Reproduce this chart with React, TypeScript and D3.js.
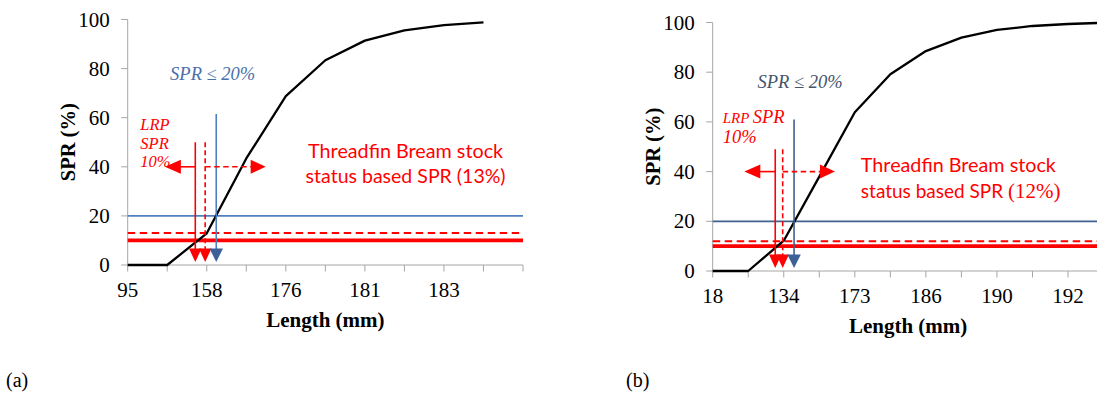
import React from "react";
import * as d3 from "d3";

// ---------- data ----------
const yTicks = [0, 20, 40, 60, 80, 100];

// Panel (a)
const aTickLabels = ["95", "158", "176", "181", "183"]; // shown on every 2nd category tick
const aSPR = [0, 0, 12.9, 43.4, 68.8, 83.4, 91.4, 95.6, 97.7, 98.8];
const aRefLevels = [20, 13, 10]; // target (blue), stock status (dashed red), LRP (solid red)
const aMarkerPos = [2.24, 1.96, 1.71]; // category positions of the vertical markers
const aMarkerTops = [61.5, 50, 50];
const aArrowTips = [0.94, 3.49];
const aStatusText = ["Threadfin Bream stock", "status based SPR (13%)"];

// Panel (b)
const bTickLabels = ["18", "134", "173", "186", "190", "192"];
const bSPR = [0, 0, 12.2, 38, 63.9, 79.2, 88.5, 93.9, 97.0, 98.6, 99.4, 99.9];
const bRefLevels = [20, 12, 10];
const bMarkerPos = [2.29, 1.97, 1.76];
const bMarkerTops = [61, 49, 49];
const bArrowTips = [0.89, 3.44];
const bStatusText = ["Threadfin Bream stock", "status based SPR ", "(12%)"];

const RED = "#ff0000";
const SERIF = "Liberation Serif, serif";
const SANS = "Lato, sans-serif";

type PanelProps = {
  x0: number; step: number; nInt: number; yBottom: number; yTop: number;
  labels: string[]; spr: number[]; levels: number[]; markers: number[]; tops: number[];
  tips: number[]; blueLine: string; blueText: string; variant: "a" | "b";
};

function Panel(p: PanelProps) {
  const x = d3.scaleLinear().domain([0, p.nInt]).range([p.x0, p.x0 + p.step * p.nInt]);
  const y = d3.scaleLinear().domain([0, 100]).range([p.yBottom, p.yTop]);
  const line = d3.line<number>().x((_, i) => x(i)).y((d) => y(d));
  const cats = d3.range(p.nInt + 1);
  const [target, status, lrp] = p.levels;
  const [mT, mS, mL] = p.markers;
  const [topT, topS, topL] = p.tops;
  const arrowY = y(40);
  const headTip = y(1.2);
  const headH = 13.5;
  const headW = 12.5;
  const downHead = (cx: number, color: string, w = headW) => (
    <path d={`M${cx - w / 2},${headTip - headH} L${cx + w / 2},${headTip - headH} L${cx},${headTip} Z`} fill={color} />
  );
  const xEnd = x(p.nInt);
  const midX = (x(0) + xEnd) / 2;
  const midY = (y(0) + y(100)) / 2;
  const axisColor = "#a6a6a6";
  const blueHead = "#3c6196";
  return (
    <g>
      {/* axes */}
      <line x1={x(0)} x2={x(0)} y1={y(0)} y2={y(100)} stroke={axisColor} strokeWidth={1} />
      <line x1={x(0)} x2={xEnd} y1={y(0)} y2={y(0)} stroke={axisColor} strokeWidth={1} />
      {yTicks.map((t) => (
        <g key={"yt" + t}>
          <line x1={x(0) - 6.5} x2={x(0)} y1={y(t)} y2={y(t)} stroke={axisColor} strokeWidth={1} />
          <text x={x(0) - 18} y={y(t)} dy="0.34em" textAnchor="end" fontFamily={SERIF} fontSize={21} fill="#000">{t}</text>
        </g>
      ))}
      {cats.map((c) => (
        <line key={"xt" + c} x1={x(c)} x2={x(c)} y1={y(0)} y2={y(0) + 6.5} stroke={axisColor} strokeWidth={1} />
      ))}
      {p.labels.map((l, i) => (
        <text key={"xl" + i} x={x(i * 2)} y={y(0) + 32} textAnchor="middle" fontFamily={SERIF} fontSize={21} fill="#000">{l}</text>
      ))}
      <text x={midX} y={y(0) + 62} textAnchor="middle" fontFamily={SERIF} fontWeight="bold" fontSize={21} fill="#000">Length (mm)</text>
      <text transform={`translate(${x(0) - 53},${midY}) rotate(-90)`} textAnchor="middle" fontFamily={SERIF} fontWeight="bold" fontSize={20.5} fill="#000">SPR (%)</text>

      {/* reference horizontal lines */}
      <line x1={x(0)} x2={xEnd} y1={y(target)} y2={y(target)} stroke={p.blueLine} strokeWidth={1.8} />
      <line x1={x(0)} x2={xEnd} y1={y(lrp)} y2={y(lrp)} stroke={RED} strokeWidth={3.8} />
      <line x1={x(0)} x2={xEnd} y1={y(status)} y2={y(status)} stroke={RED} strokeWidth={2} strokeDasharray="7.5,4.5" />

      {/* SPR curve */}
      <path d={line(p.spr) || ""} fill="none" stroke="#000" strokeWidth={2.3} strokeLinejoin="round" />

      {/* vertical markers */}
      <line x1={x(mL)} x2={x(mL)} y1={y(topL)} y2={headTip - headH + 1} stroke={RED} strokeWidth={1.6} />
      <line x1={x(mS)} x2={x(mS)} y1={y(topS)} y2={headTip - headH + 1} stroke={RED} strokeWidth={1.6} strokeDasharray="5,3" />
      <line x1={x(mT)} x2={x(mT)} y1={y(topT)} y2={headTip - headH + 1} stroke={p.blueLine} strokeWidth={1.6} />
      {downHead(x(mL), RED)}
      {downHead(x(mS), RED)}
      {downHead(x(mT), blueHead, 13.5)}

      {/* horizontal arrows at 40% */}
      <line x1={x(mL)} x2={x(p.tips[0]) + 14} y1={arrowY} y2={arrowY} stroke={RED} strokeWidth={1.6} />
      <path d={`M${x(p.tips[0])},${arrowY} L${x(p.tips[0]) + 16},${arrowY - 7} L${x(p.tips[0]) + 16},${arrowY + 7} Z`} fill={RED} />
      <line x1={x(mS)} x2={x(p.tips[1]) - 14} y1={arrowY} y2={arrowY} stroke={RED} strokeWidth={1.6} strokeDasharray="5.5,3.5" />
      <path d={`M${x(p.tips[1])},${arrowY} L${x(p.tips[1]) - 15},${arrowY - 7} L${x(p.tips[1]) - 15},${arrowY + 7} Z`} fill={RED} />

      {/* annotations */}
      {p.variant === "a" ? (
        <g>
          <text x={x(2.15)} y={y(75.3)} textAnchor="middle" fontFamily={SERIF} fontStyle="italic" fontSize={18.5} fill={p.blueText}>SPR ≤ 20%</text>
          <text x={x(0.32)} y={y(54.9)} fontFamily={SERIF} fontStyle="italic" fontSize={16.5} fill={RED}>LRP</text>
          <text x={x(0.32)} y={y(47.2)} fontFamily={SERIF} fontStyle="italic" fontSize={16.5} fill={RED}>SPR</text>
          <text x={x(0.32)} y={y(40.0)} fontFamily={SERIF} fontStyle="italic" fontSize={16.5} fill={RED}>10%</text>
          <text x={x(7.03)} y={y(43.75)} textAnchor="middle" fontFamily={SANS} fontSize={19} fill={RED} textLength={195} lengthAdjust="spacingAndGlyphs">{aStatusText[0]}</text>
          <text x={x(7.03)} y={y(33.25)} textAnchor="middle" fontFamily={SANS} fontSize={19} fill={RED} textLength={200} lengthAdjust="spacingAndGlyphs">{aStatusText[1]}</text>
        </g>
      ) : (
        <g>
          <text x={x(1.26)} y={y(73.5)} fontFamily={SERIF} fontStyle="italic" fontSize={18.5} fill={p.blueText}>SPR ≤ 20%</text>
          <text x={x(0.28)} y={y(59.7)} fontFamily={SERIF} fontStyle="italic" fill={RED}>
            <tspan fontSize={15}>LRP </tspan>
            <tspan fontSize={18.5}>SPR</tspan>
          </text>
          <text x={x(0.28)} y={y(51.6)} fontFamily={SERIF} fontStyle="italic" fontSize={18.5} fill={RED}>10%</text>
          <text x={x(4.17)} y={y(40.0)} fontFamily={SANS} fontSize={19} fill={RED} textLength={195} lengthAdjust="spacingAndGlyphs">{bStatusText[0]}</text>
          <text x={x(4.17)} y={y(29.3)} fontSize={19} fill={RED}>
            <tspan fontFamily={SANS}>{bStatusText[1]}</tspan>
            <tspan fontFamily={SERIF} fontSize={21}>{bStatusText[2]}</tspan>
          </text>
        </g>
      )}
    </g>
  );
}

export default function App() {
  return (
    <svg width={1097} height={400} style={{ position: "absolute", left: 0, top: 0, background: "#fff" }}>
      <rect x={0} y={0} width={1097} height={400} fill="#fff" />
      <Panel x0={127.7} step={39.53} nInt={10} yBottom={265} yTop={19.5}
        labels={aTickLabels} spr={aSPR} levels={aRefLevels} markers={aMarkerPos} tops={aMarkerTops}
        tips={aArrowTips} blueLine="#4f7fbf" blueText="#4a6fa9" variant="a" />
      <Panel x0={712.7} step={35.53} nInt={11} yBottom={271} yTop={22.5}
        labels={bTickLabels} spr={bSPR} levels={bRefLevels} markers={bMarkerPos} tops={bMarkerTops}
        tips={bArrowTips} blueLine="#41608e" blueText="#44546a" variant="b" />
      <text x={6} y={387} fontFamily={SERIF} fontSize={20} fill="#000">(a)</text>
      <text x={626} y={387} fontFamily={SERIF} fontSize={20} fill="#000">(b)</text>
    </svg>
  );
}
